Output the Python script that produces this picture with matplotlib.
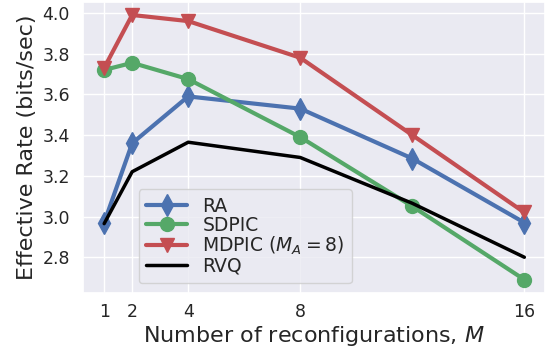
import matplotlib
matplotlib.use("Agg")
import matplotlib.pyplot as plt
import seaborn as sns

M = [1, 2, 4, 8, 12, 16]
ra = [2.97, 3.36, 3.59, 3.53, 3.285, 2.97]
sdpic = [3.72, 3.755, 3.675, 3.39, 3.05, 2.69]
mdpic = [3.73, 3.99, 3.96, 3.78, 3.40, 3.02]
rvq = [2.965, 3.22, 3.365, 3.29, 3.065, 2.80]
xticks = [1, 2, 4, 8, 16]

sns.set_theme(style="darkgrid")

fig, ax = plt.subplots(figsize=(5.47, 3.52), dpi=100)

ax.plot(M, ra, color="#4C72B0", marker="d", markersize=11, linewidth=3, label="RA")
ax.plot(M, sdpic, color="#55A868", marker="o", markersize=10, linewidth=3, label="SDPIC")
ax.plot(M, mdpic, color="#C44E52", marker="v", markersize=10, linewidth=3,
        label=r"MDPIC ($M_A = 8$)")
ax.plot(M, rvq, color="black", linewidth=2.5, label="RVQ")

ax.set_xticks(xticks)
ax.tick_params(labelsize=12.5)
ax.tick_params(axis="x", pad=1.5)
ax.set_xlabel("Number of reconfigurations, $M$", fontsize=16, labelpad=2)
ax.set_ylabel("Effective Rate (bits/sec)", fontsize=16)

ax.legend(loc="lower left", bbox_to_anchor=(0.1, 0.0), fontsize=13.5,
          handlelength=2.2, labelspacing=0.0, borderpad=0.4)

fig.subplots_adjust(left=0.152, right=0.997, top=0.995, bottom=0.168)
fig.savefig("out.png", dpi=100)
